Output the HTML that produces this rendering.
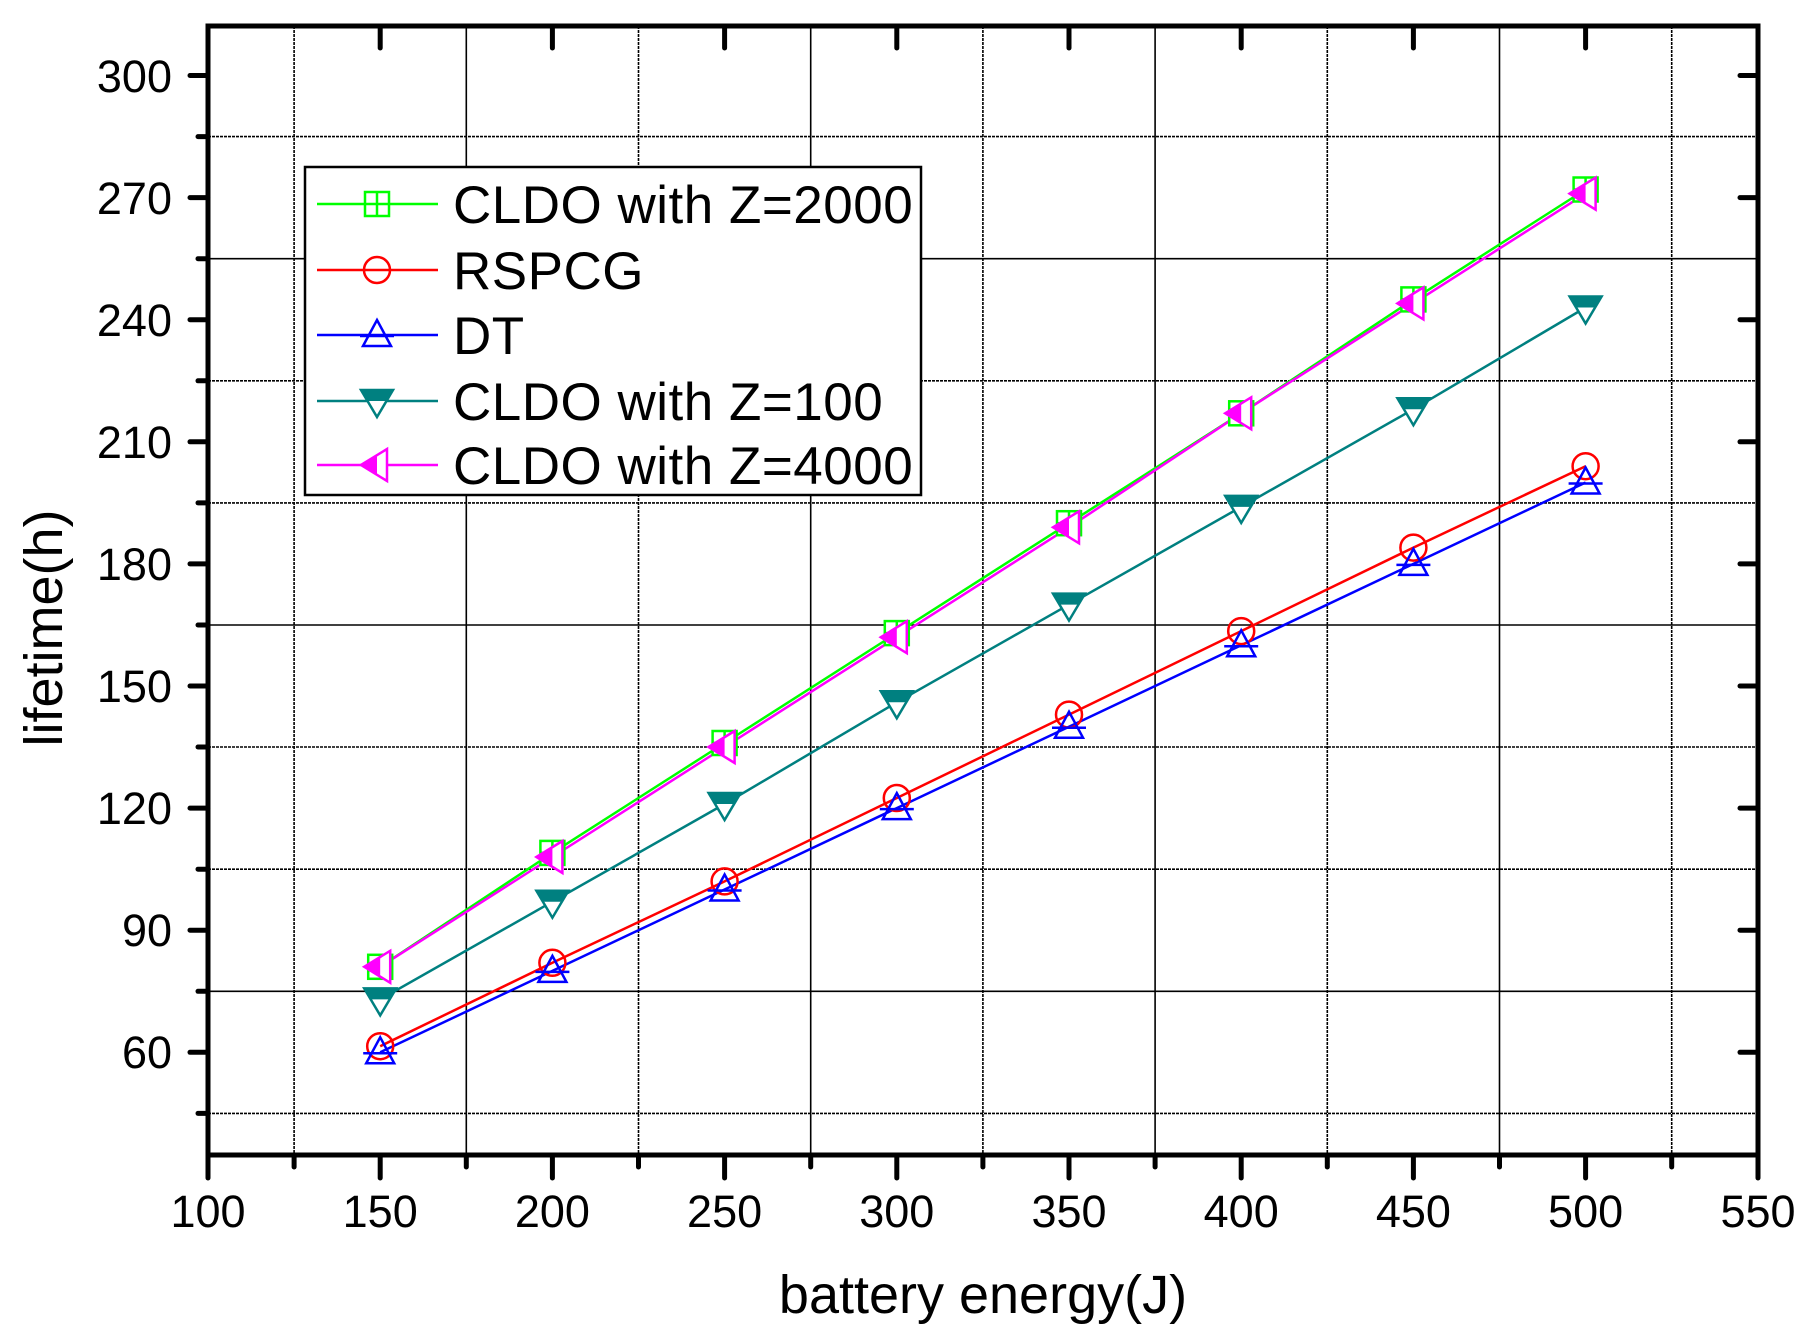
<!DOCTYPE html>
<html><head><style>body{margin:0;background:#fff}svg{display:block}</style></head><body>
<svg width="1806" height="1336" viewBox="0 0 1806 1336" xmlns="http://www.w3.org/2000/svg" font-family="Liberation Sans, Arial, sans-serif">
<defs>
<g id="sq"><rect x="-12" y="-12" width="24" height="24" fill="#fff" stroke="#00ff00" stroke-width="2.5"/><line x1="0" y1="-12" x2="0" y2="12" stroke="#00ff00" stroke-width="2.5"/><line x1="-12" y1="0" x2="12" y2="0" stroke="#00ff00" stroke-width="2.5"/></g>
<g id="ci"><circle r="13" fill="none" stroke="#ff0000" stroke-width="2.5"/></g>
<g id="tu"><path d="M0,-15 L14,11 L-14,11 Z" fill="none" stroke="#0000ff" stroke-width="2.5"/><line x1="-17" y1="1" x2="17" y2="1" stroke="#0000ff" stroke-width="2.5"/></g>
<g id="td"><path d="M-16,-11 L16,-11 L0,16 Z" fill="#fff" stroke="#008080" stroke-width="2.5"/><path d="M-16,-11 L16,-11 L10,0 L-10,0 Z" fill="#008080"/></g>
<g id="tl"><path d="M-16,0 L10,-16 L10,16 Z" fill="#fff" stroke="#ff00ff" stroke-width="2.5"/><path d="M-16,0 L0,-10 L0,10 Z" fill="#ff00ff"/></g>
</defs>
<g stroke="#000" stroke-width="1.6">
<line x1="294.1" y1="26" x2="294.1" y2="1155" stroke-dasharray="3,1"/>
<line x1="466.3" y1="26" x2="466.3" y2="1155"/>
<line x1="638.5" y1="26" x2="638.5" y2="1155" stroke-dasharray="3,1"/>
<line x1="810.7" y1="26" x2="810.7" y2="1155"/>
<line x1="982.9" y1="26" x2="982.9" y2="1155" stroke-dasharray="3,1"/>
<line x1="1155.1" y1="26" x2="1155.1" y2="1155"/>
<line x1="1327.3" y1="26" x2="1327.3" y2="1155" stroke-dasharray="3,1"/>
<line x1="1499.5" y1="26" x2="1499.5" y2="1155"/>
<line x1="1671.7" y1="26" x2="1671.7" y2="1155" stroke-dasharray="3,1"/>
<line x1="208" y1="136.6" x2="1758" y2="136.6" stroke-dasharray="3,1"/>
<line x1="208" y1="258.7" x2="1758" y2="258.7"/>
<line x1="208" y1="380.8" x2="1758" y2="380.8" stroke-dasharray="3,1"/>
<line x1="208" y1="502.9" x2="1758" y2="502.9" stroke-dasharray="3,1"/>
<line x1="208" y1="625" x2="1758" y2="625"/>
<line x1="208" y1="747" x2="1758" y2="747" stroke-dasharray="3,1"/>
<line x1="208" y1="869.2" x2="1758" y2="869.2" stroke-dasharray="3,1"/>
<line x1="208" y1="991.3" x2="1758" y2="991.3"/>
<line x1="208" y1="1113.4" x2="1758" y2="1113.4" stroke-dasharray="3,1"/>
</g>
<g fill="none" stroke-width="2.5">
<polyline stroke="#00ff00" points="380.2,966.8 552.4,852.9 724.6,743 896.8,633.1 1069,523.2 1241.2,413.3 1413.4,299.4 1585.6,189.5"/>
<polyline stroke="#ff0000" points="380.2,1046.2 552.4,962.8 724.6,881.4 896.8,798 1069,714.6 1241.2,631.1 1413.4,547.6 1585.6,466.2"/>
<polyline stroke="#0000ff" points="380.2,1052.3 552.4,970.9 724.6,889.5 896.8,808.1 1069,726.7 1241.2,645.3 1413.4,563.9 1585.6,482.5"/>
<polyline stroke="#008080" points="380.2,999.4 552.4,901.7 724.6,804 896.8,702.3 1069,604.6 1241.2,506.9 1413.4,409.2 1585.6,307.5"/>
<polyline stroke="#ff00ff" points="380.2,966.8 552.4,857 724.6,747 896.8,637.2 1069,527.3 1241.2,413.3 1413.4,303.4 1585.6,193.6"/>
</g>
<g>
<use href="#sq" x="380.2" y="966.8"/><use href="#sq" x="552.4" y="852.9"/><use href="#sq" x="724.6" y="743"/><use href="#sq" x="896.8" y="633.1"/><use href="#sq" x="1069" y="523.2"/><use href="#sq" x="1241.2" y="413.3"/><use href="#sq" x="1413.4" y="299.4"/><use href="#sq" x="1585.6" y="189.5"/>
<use href="#ci" x="380.2" y="1046.2"/><use href="#ci" x="552.4" y="962.8"/><use href="#ci" x="724.6" y="881.4"/><use href="#ci" x="896.8" y="798"/><use href="#ci" x="1069" y="714.6"/><use href="#ci" x="1241.2" y="631.1"/><use href="#ci" x="1413.4" y="547.6"/><use href="#ci" x="1585.6" y="466.2"/>
<use href="#tu" x="380.2" y="1052.3"/><use href="#tu" x="552.4" y="970.9"/><use href="#tu" x="724.6" y="889.5"/><use href="#tu" x="896.8" y="808.1"/><use href="#tu" x="1069" y="726.7"/><use href="#tu" x="1241.2" y="645.3"/><use href="#tu" x="1413.4" y="563.9"/><use href="#tu" x="1585.6" y="482.5"/>
<use href="#td" x="380.2" y="999.4"/><use href="#td" x="552.4" y="901.7"/><use href="#td" x="724.6" y="804"/><use href="#td" x="896.8" y="702.3"/><use href="#td" x="1069" y="604.6"/><use href="#td" x="1241.2" y="506.9"/><use href="#td" x="1413.4" y="409.2"/><use href="#td" x="1585.6" y="307.5"/>
<use href="#tl" x="380.2" y="966.8"/><use href="#tl" x="552.4" y="857"/><use href="#tl" x="724.6" y="747"/><use href="#tl" x="896.8" y="637.2"/><use href="#tl" x="1069" y="527.3"/><use href="#tl" x="1241.2" y="413.3"/><use href="#tl" x="1413.4" y="303.4"/><use href="#tl" x="1585.6" y="193.6"/>
</g>
<rect x="305" y="167" width="616" height="328" fill="#fff" stroke="#000" stroke-width="2.5"/>
<g stroke-width="2.5">
<line x1="317" y1="204" x2="438" y2="204" stroke="#00ff00"/><use href="#sq" x="377" y="204"/>
<line x1="317" y1="270" x2="438" y2="270" stroke="#ff0000"/><use href="#ci" x="377" y="270"/>
<line x1="317" y1="335" x2="438" y2="335" stroke="#0000ff"/><use href="#tu" x="377" y="335"/>
<line x1="317" y1="401" x2="438" y2="401" stroke="#008080"/><use href="#td" x="377" y="401"/>
<line x1="317" y1="465" x2="438" y2="465" stroke="#ff00ff"/><use href="#tl" x="377" y="465"/>
</g>
<g font-size="53" fill="#000" letter-spacing="0.5">
<text x="453" y="223">CLDO with Z=2000</text>
<text x="453" y="289">RSPCG</text>
<text x="453" y="354">DT</text>
<text x="453" y="420">CLDO with Z=100</text>
<text x="453" y="484">CLDO with Z=4000</text>
</g>
<rect x="208" y="26" width="1550" height="1129" fill="none" stroke="#000" stroke-width="5"/>
<g stroke="#000" stroke-width="5" stroke-linecap="round">
<line x1="190" y1="75.5" x2="208" y2="75.5"/><line x1="190" y1="197.6" x2="208" y2="197.6"/><line x1="190" y1="319.7" x2="208" y2="319.7"/><line x1="190" y1="441.8" x2="208" y2="441.8"/><line x1="190" y1="563.9" x2="208" y2="563.9"/><line x1="190" y1="686" x2="208" y2="686"/><line x1="190" y1="808.1" x2="208" y2="808.1"/><line x1="190" y1="930.2" x2="208" y2="930.2"/><line x1="190" y1="1052.3" x2="208" y2="1052.3"/>
<line x1="198" y1="136.6" x2="208" y2="136.6"/><line x1="198" y1="258.7" x2="208" y2="258.7"/><line x1="198" y1="380.8" x2="208" y2="380.8"/><line x1="198" y1="502.9" x2="208" y2="502.9"/><line x1="198" y1="625" x2="208" y2="625"/><line x1="198" y1="747" x2="208" y2="747"/><line x1="198" y1="869.2" x2="208" y2="869.2"/><line x1="198" y1="991.3" x2="208" y2="991.3"/><line x1="198" y1="1113.4" x2="208" y2="1113.4"/>
<line x1="1740" y1="75.5" x2="1758" y2="75.5"/><line x1="1740" y1="197.6" x2="1758" y2="197.6"/><line x1="1740" y1="319.7" x2="1758" y2="319.7"/><line x1="1740" y1="441.8" x2="1758" y2="441.8"/><line x1="1740" y1="563.9" x2="1758" y2="563.9"/><line x1="1740" y1="686" x2="1758" y2="686"/><line x1="1740" y1="808.1" x2="1758" y2="808.1"/><line x1="1740" y1="930.2" x2="1758" y2="930.2"/><line x1="1740" y1="1052.3" x2="1758" y2="1052.3"/>
<line x1="208" y1="1155" x2="208" y2="1178"/><line x1="380.2" y1="1155" x2="380.2" y2="1178"/><line x1="552.4" y1="1155" x2="552.4" y2="1178"/><line x1="724.6" y1="1155" x2="724.6" y2="1178"/><line x1="896.8" y1="1155" x2="896.8" y2="1178"/><line x1="1069" y1="1155" x2="1069" y2="1178"/><line x1="1241.2" y1="1155" x2="1241.2" y2="1178"/><line x1="1413.4" y1="1155" x2="1413.4" y2="1178"/><line x1="1585.6" y1="1155" x2="1585.6" y2="1178"/><line x1="1758" y1="1155" x2="1758" y2="1178"/>
<line x1="294.1" y1="1155" x2="294.1" y2="1167"/><line x1="466.3" y1="1155" x2="466.3" y2="1167"/><line x1="638.5" y1="1155" x2="638.5" y2="1167"/><line x1="810.7" y1="1155" x2="810.7" y2="1167"/><line x1="982.9" y1="1155" x2="982.9" y2="1167"/><line x1="1155.1" y1="1155" x2="1155.1" y2="1167"/><line x1="1327.3" y1="1155" x2="1327.3" y2="1167"/><line x1="1499.5" y1="1155" x2="1499.5" y2="1167"/><line x1="1671.7" y1="1155" x2="1671.7" y2="1167"/>
<line x1="380.2" y1="26" x2="380.2" y2="48"/><line x1="552.4" y1="26" x2="552.4" y2="48"/><line x1="724.6" y1="26" x2="724.6" y2="48"/><line x1="896.8" y1="26" x2="896.8" y2="48"/><line x1="1069" y1="26" x2="1069" y2="48"/><line x1="1241.2" y1="26" x2="1241.2" y2="48"/><line x1="1413.4" y1="26" x2="1413.4" y2="48"/><line x1="1585.6" y1="26" x2="1585.6" y2="48"/>
</g>
<g font-size="45" fill="#000" text-anchor="end">
<text x="172" y="92">300</text><text x="172" y="214">270</text><text x="172" y="336">240</text><text x="172" y="458">210</text><text x="172" y="580">180</text><text x="172" y="702">150</text><text x="172" y="824">120</text><text x="172" y="946">90</text><text x="172" y="1068">60</text>
</g>
<g font-size="45" fill="#000" text-anchor="middle">
<text x="208" y="1227">100</text><text x="380.2" y="1227">150</text><text x="552.4" y="1227">200</text><text x="724.6" y="1227">250</text><text x="896.8" y="1227">300</text><text x="1069" y="1227">350</text><text x="1241.2" y="1227">400</text><text x="1413.4" y="1227">450</text><text x="1585.6" y="1227">500</text><text x="1758" y="1227">550</text>
</g>
<text x="983" y="1313" font-size="54" text-anchor="middle">battery energy(J)</text>
<text transform="translate(62,628) rotate(-90)" font-size="54" text-anchor="middle">lifetime(h)</text>
</svg>
</body></html>
